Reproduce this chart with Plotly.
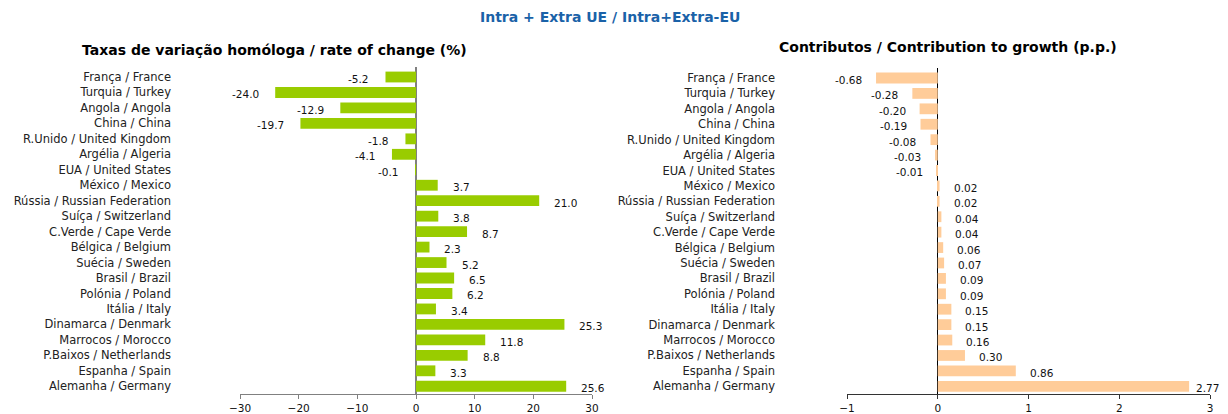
import plotly.graph_objects as go

categories = [
    "França / France", "Turquia / Turkey", "Angola / Angola", "China / China",
    "R.Unido / United Kingdom", "Argélia / Algeria", "EUA / United States",
    "México / Mexico", "Rússia / Russian Federation", "Suíça / Switzerland",
    "C.Verde / Cape Verde", "Bélgica / Belgium", "Suécia / Sweden",
    "Brasil / Brazil", "Polónia / Poland", "Itália / Italy",
    "Dinamarca / Denmark", "Marrocos / Morocco", "P.Baixos / Netherlands",
    "Espanha / Spain", "Alemanha / Germany",
]
rate_of_change = [-5.2, -24.0, -12.9, -19.7, -1.8, -4.1, -0.1, 3.7, 21.0, 3.8,
                  8.7, 2.3, 5.2, 6.5, 6.2, 3.4, 25.3, 11.8, 8.8, 3.3, 25.6]
contributions = [-0.68, -0.28, -0.20, -0.19, -0.08, -0.03, -0.01, 0.02, 0.02, 0.04,
                 0.04, 0.06, 0.07, 0.09, 0.09, 0.15, 0.15, 0.16, 0.30, 0.86, 2.77]

rate_ticks = [-30, -20, -10, 0, 10, 20, 30]
contrib_ticks = [-1, 0, 1, 2, 3]

main_title = "Intra + Extra UE / Intra+Extra-EU"
left_title = "Taxas de variação homóloga / rate of change (%)"
right_title = "Contributos / Contribution to growth (p.p.)"

# page body has an 8px margin; figure fills the rest of the 1228x414 window
OFF = 8
W, H = 1228 - OFF, 414 - OFF
FONT = "DejaVu Sans, Arial, sans-serif"


def fx(px):
    return (px - OFF) / W


def fy(py):
    return 1 - (py - OFF) / H


def label_shift(v, vmax, gap):
    # Excel-like: labels near the plot edge are pulled in toward the bar end
    if v < 0:
        return -gap
    return gap if v < 0.9 * vmax else 5


fig = go.Figure()
fig.add_trace(go.Bar(x=rate_of_change, y=categories, orientation="h",
                     marker=dict(color="#99CC00", line=dict(width=0)),
                     xaxis="x", yaxis="y", hoverinfo="x+y"))
fig.add_trace(go.Bar(x=contributions, y=categories, orientation="h",
                     marker=dict(color="#FFCC99", line=dict(width=0)),
                     xaxis="x2", yaxis="y2", hoverinfo="x+y"))

annotations = []
for c, v in zip(categories, rate_of_change):
    annotations.append(dict(x=v, y=c, xref="x", yref="y", text=f"{v:.1f}",
                            showarrow=False, xanchor="right" if v < 0 else "left",
                            xshift=label_shift(v, 30, 14) if v < 0 else 13, yshift=-2,
                            font=dict(size=10.5, color="#111", family=FONT)))
for c, v in zip(categories, contributions):
    annotations.append(dict(x=v, y=c, xref="x2", yref="y2", text=f"{v:.2f}",
                            showarrow=False, xanchor="right" if v < 0 else "left",
                            xshift=label_shift(v, 3, 12), yshift=-2,
                            font=dict(size=10.5, color="#111", family=FONT)))

annotations.append(dict(x=fx(610), y=fy(17), xref="paper", yref="paper",
                        text=f"<b>{main_title}</b>", showarrow=False,
                        xanchor="center", yanchor="middle",
                        font=dict(size=14, color="#1A62A8", family=FONT)))
annotations.append(dict(x=fx(274), y=fy(50), xref="paper", yref="paper",
                        text=f"<b>{left_title}</b>", showarrow=False,
                        xanchor="center", yanchor="middle",
                        font=dict(size=14, color="#000", family=FONT)))
annotations.append(dict(x=fx(948), y=fy(47), xref="paper", yref="paper",
                        text=f"<b>{right_title}</b>", showarrow=False,
                        xanchor="center", yanchor="middle",
                        font=dict(size=14, color="#000", family=FONT)))

fig.update_layout(
    width=W, height=H,
    margin=dict(l=0, r=0, t=0, b=0, autoexpand=False),
    paper_bgcolor="white", plot_bgcolor="white",
    showlegend=False, bargap=0.3,
    font=dict(family=FONT, size=11, color="#222"),
    annotations=annotations,
    xaxis=dict(domain=[fx(240), fx(592)], range=[-30, 30], tickvals=rate_ticks,
               showgrid=False, zeroline=True, zerolinecolor="#808080", zerolinewidth=1.5,
               showline=True, linecolor="#808080", linewidth=1, ticks="outside",
               ticklen=4, tickcolor="#808080", anchor="y", automargin=False,
               tickfont=dict(size=10.5, color="#111")),
    yaxis=dict(domain=[fy(394), fy(67)], autorange="reversed",
               showgrid=False, showline=False, zeroline=False, anchor="x",
               automargin=False, ticklabelstandoff=68,
               tickfont=dict(size=11.5, color="#222")),
    xaxis2=dict(domain=[fx(847), fx(1210)], range=[-1, 3], tickvals=contrib_ticks,
                showgrid=False, zeroline=True, zerolinecolor="#000", zerolinewidth=1,
                showline=True, linecolor="#333", linewidth=1, ticks="outside",
                ticklen=4, tickcolor="#333", anchor="y2", automargin=False,
                tickfont=dict(size=10.5, color="#111")),
    yaxis2=dict(domain=[fy(394), fy(68)], autorange="reversed",
                showgrid=False, showline=False, zeroline=False, anchor="x2",
                automargin=False, ticklabelstandoff=71,
                tickfont=dict(size=11.5, color="#222")),
)

fig.write_html("out.html")
